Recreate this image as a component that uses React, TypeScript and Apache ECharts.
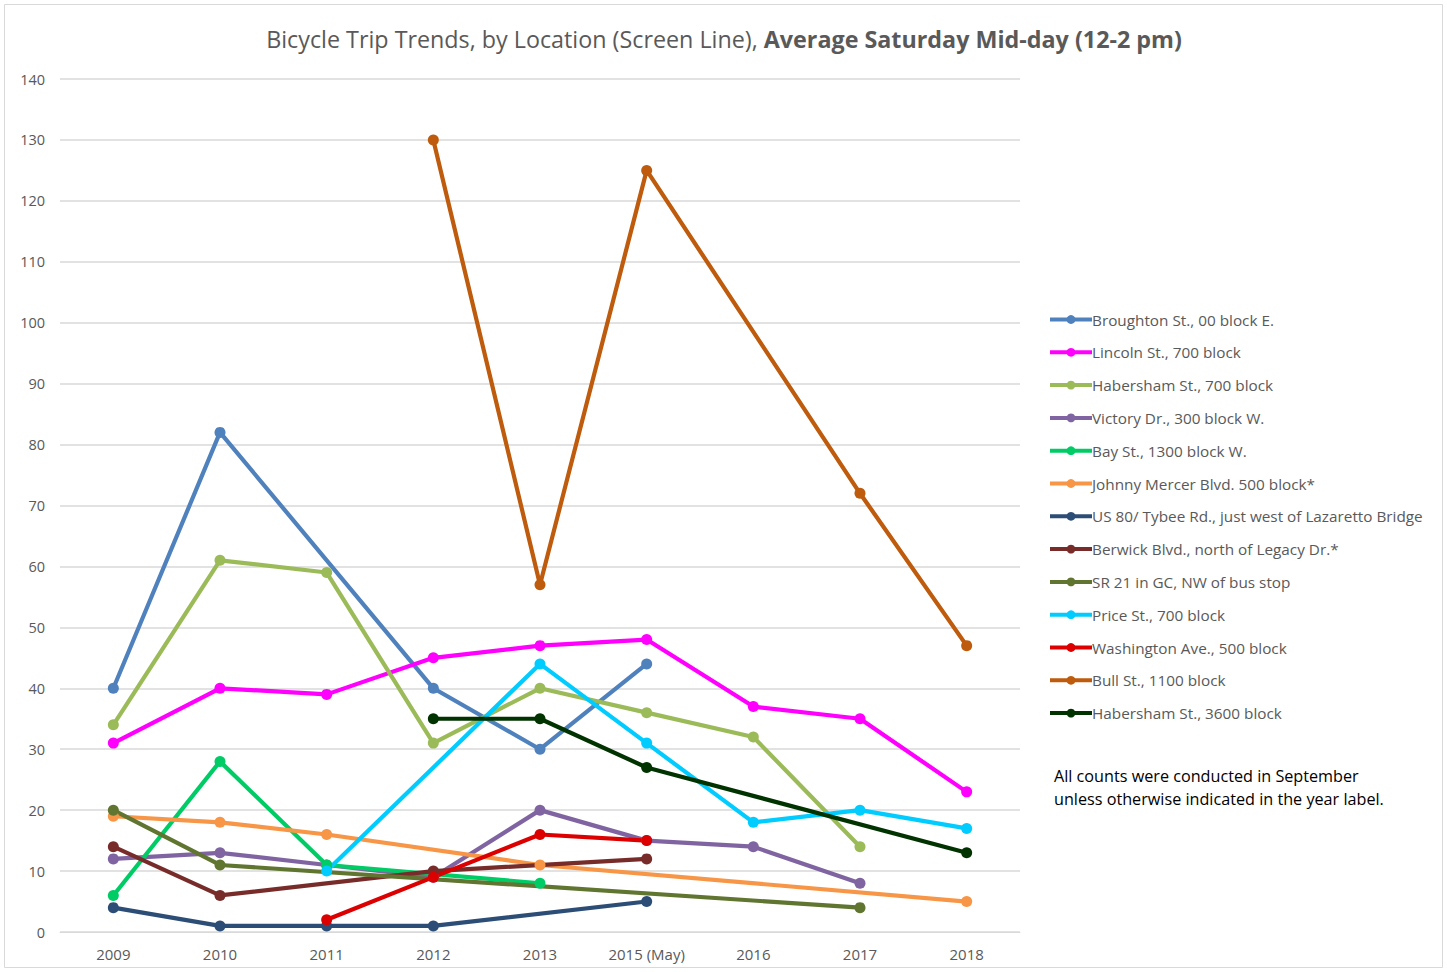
import React, { useEffect, useRef } from "react";
import * as echarts from "echarts";

const categories = ["2009", "2010", "2011", "2012", "2013", "2015 (May)", "2016", "2017", "2018"];

const seriesNames = [
  "Broughton St., 00 block E.",
  "Lincoln St., 700 block",
  "Habersham St., 700 block",
  "Victory Dr., 300 block W.",
  "Bay St., 1300 block W.",
  "Johnny Mercer Blvd. 500 block*",
  "US 80/ Tybee Rd., just west of Lazaretto Bridge",
  "Berwick Blvd., north of Legacy Dr.*",
  "SR 21 in GC, NW of bus stop",
  "Price St., 700 block",
  "Washington Ave., 500 block",
  "Bull St., 1100 block",
  "Habersham St., 3600 block",
];

const broughton = [40, 82, null, 40, 30, 44, null, null, null];
const lincoln = [31, 40, 39, 45, 47, 48, 37, 35, 23];
const habersham700 = [34, 61, 59, 31, 40, 36, 32, 14, null];
const victory = [12, 13, 11, 9, 20, 15, 14, 8, null];
const bay = [6, 28, 11, null, 8, null, null, null, null];
const johnnyMercer = [19, 18, 16, null, 11, null, null, null, 5];
const us80 = [4, 1, 1, 1, null, 5, null, null, null];
const berwick = [14, 6, null, 10, null, 12, null, null, null];
const sr21 = [20, 11, null, null, null, null, null, 4, null];
const price = [null, null, 10, null, 44, 31, 18, 20, 17];
const washington = [null, null, 2, 9, 16, 15, null, null, null];
const bull = [null, null, null, 130, 57, 125, null, 72, 47];
const habersham3600 = [null, null, null, 35, 35, 27, null, null, 13];

const seriesData = [
  broughton, lincoln, habersham700, victory, bay, johnnyMercer, us80,
  berwick, sr21, price, washington, bull, habersham3600,
];

const colors = [
  "#4F81BD", "#FF00FF", "#9BBB59", "#8064A2", "#00CC66", "#F79646", "#2C4D75",
  "#772C2A", "#5F7530", "#00CCFF", "#DD0000", "#BE5B0C", "#003300",
];

const yTicks = [0, 140, 10];
const noteLines = [
  "All counts were conducted in September",
  "unless otherwise indicated in the year label.",
];

const FONT = "'Open Sans', 'Noto Sans', sans-serif";

export default function App() {
  const ref = useRef<HTMLDivElement>(null);
  useEffect(() => {
    if (!ref.current) return;
    const chart = echarts.init(ref.current, null, { renderer: "svg" });
    chart.setOption({
      animation: false,
      backgroundColor: "#ffffff",
      color: colors,
      title: {
        text: "{n|Bicycle Trip Trends, by Location (Screen Line), }{b|Average Saturday Mid-day (12-2 pm)}",
        left: 719,
        textAlign: "center",
        top: 22,
        textStyle: {
          rich: {
            n: { fontFamily: FONT, fontSize: 23.3, color: "#595959", fontWeight: "normal" },
            b: { fontFamily: FONT, fontSize: 23.3, color: "#595959", fontWeight: "bold" },
          },
        },
      },
      legend: {
        orient: "vertical",
        left: 1043,
        top: 307,
        itemWidth: 42,
        itemHeight: 11,
        itemGap: 17.8,
        lineStyle: { width: 4 },
        textStyle: { fontFamily: FONT, fontSize: 15.3, color: "#595959", padding: [0, 0, 0, -5] },
        data: seriesNames,
      },
      grid: { left: 60, right: 427, top: 79, bottom: 40, containLabel: false },
      xAxis: {
        type: "category",
        data: categories,
        boundaryGap: true,
        axisLine: { show: true, lineStyle: { color: "#D9D9D9", width: 1 } },
        axisTick: { show: false },
        axisLabel: { fontFamily: FONT, fontSize: 15, color: "#595959", margin: 14 },
        splitLine: { show: false },
      },
      yAxis: {
        type: "value",
        min: yTicks[0],
        max: yTicks[1],
        interval: yTicks[2],
        axisLine: { show: false },
        axisTick: { show: false },
        axisLabel: { fontFamily: FONT, fontSize: 14.5, color: "#595959", margin: 15 },
        splitLine: { lineStyle: { color: "#D9D9D9", width: 1.5 } },
      },
      series: seriesNames.map((name, i) => ({
        name,
        type: "line",
        data: seriesData[i],
        connectNulls: true,
        symbol: "circle",
        symbolSize: 11,
        showSymbol: true,
        lineStyle: { width: 4.2, color: colors[i] },
        itemStyle: { color: colors[i] },
        emphasis: { disabled: true },
      })),
      graphic: [
        {
          type: "rect",
          shape: { x: 4.5, y: 4.5, width: 1438, height: 963 },
          style: { fill: "none", stroke: "#D9D9D9", lineWidth: 1 },
          silent: true,
        },
        ...noteLines.map((t, i) => ({
          type: "text",
          left: 1054,
          top: 768 + i * 23,
          style: { text: t, fontFamily: FONT, fontSize: 16.2, fill: "#000000" },
        })),
      ],
    });
    return () => chart.dispose();
  }, []);
  return (
    <div
      ref={ref}
      style={{ position: "fixed", left: 0, top: 0, width: 1447, height: 972 }}
    />
  );
}
